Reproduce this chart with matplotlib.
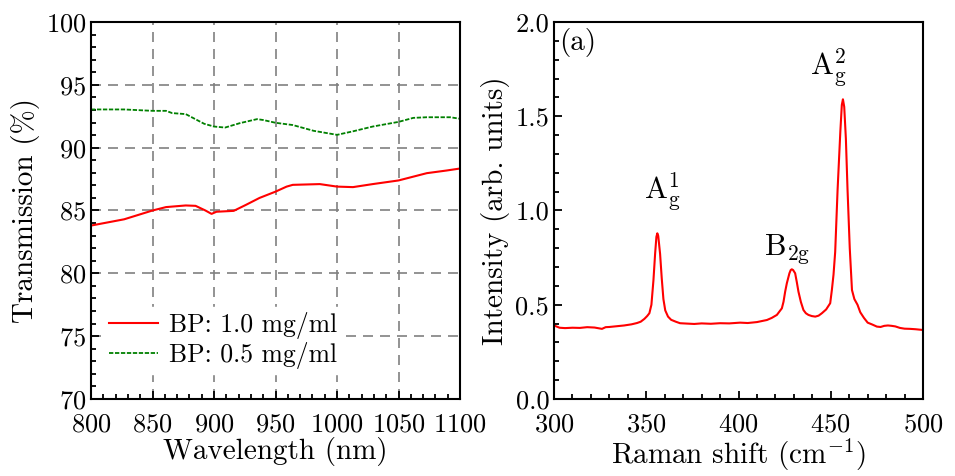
import numpy as np
import matplotlib
matplotlib.use("Agg")
import matplotlib.pyplot as plt
from matplotlib.ticker import MultipleLocator, FormatStrFormatter

plt.rcParams['font.family'] = 'cmr10'
plt.rcParams['mathtext.fontset'] = 'cm'
plt.rcParams['axes.formatter.use_mathtext'] = True
plt.rcParams['axes.unicode_minus'] = False

# Transmisja - dane
wavelength = [800, 827, 850, 861, 877, 885, 893, 898, 902, 916, 926, 937, 950,
              959, 964, 986, 1000, 1013, 1029, 1050, 1073, 1089, 1100]
trans_10 = [83.8, 84.3, 85.0, 85.27, 85.4, 85.37, 85.0, 84.73, 84.9, 84.97,
            85.45, 86.0, 86.5, 86.9, 87.04, 87.1, 86.9, 86.86, 87.1, 87.39,
            87.97, 88.18, 88.34]

wavelength_05 = [800, 827, 850, 861, 866, 877, 892, 900, 909, 921, 935, 940,
                 950, 964, 981, 1000, 1013, 1029, 1050, 1062, 1073, 1092, 1100]
trans_05 = [93.04, 93.04, 92.93, 92.93, 92.75, 92.67, 91.9, 91.68, 91.6, 91.95,
            92.27, 92.2, 91.98, 91.8, 91.34, 91.02, 91.3, 91.68, 92.05, 92.37,
            92.42, 92.42, 92.3]

# Widmo Ramana
raman_shift = [300, 303, 306, 310, 314, 318, 322, 326, 328, 330, 334, 338, 342,
               345, 347, 349, 350.5, 351.7, 352.8, 353.9, 354.8, 355.5, 356.0,
               356.5, 357.5, 358.4, 359.3, 360.3, 361.8, 363.5, 366, 368.3, 372,
               376, 380, 385, 390, 395, 400.9, 405, 410, 415.4, 418, 420.8,
               423.5, 424.4, 425.3, 426.2, 427.6, 428.3, 428.9, 429.6, 430.7,
               431.6, 432.5, 433.8, 435.2, 436.5, 437.9, 439.7, 441.6, 443.4,
               445.2, 447.5, 449.7, 450.6, 451.5, 452.4, 453.7, 455.2, 456.0,
               456.6, 457.3, 458.2, 459.1, 460.3, 461.5, 462.8, 464.5, 466,
               468, 470, 472.5, 475, 477, 479, 481, 483, 485, 487.5, 490, 493,
               496, 500]
intensity = [0.39, 0.378, 0.376, 0.378, 0.377, 0.381, 0.379, 0.372, 0.381,
             0.382, 0.386, 0.39, 0.396, 0.403, 0.41, 0.425, 0.44, 0.455, 0.5,
             0.63, 0.77, 0.86, 0.879, 0.865, 0.77, 0.64, 0.53, 0.47, 0.437,
             0.42, 0.41, 0.402, 0.4, 0.398, 0.401, 0.399, 0.402, 0.401, 0.405,
             0.403, 0.408, 0.419, 0.43, 0.446, 0.481, 0.516, 0.57, 0.614,
             0.667, 0.684, 0.688, 0.684, 0.667, 0.62, 0.569, 0.515, 0.472,
             0.455, 0.446, 0.44, 0.437, 0.442, 0.455, 0.475, 0.508, 0.578,
             0.66, 0.78, 1.109, 1.42, 1.56, 1.59, 1.55, 1.38, 1.109, 0.8,
             0.578, 0.53, 0.5, 0.46, 0.43, 0.405, 0.395, 0.384, 0.382, 0.388,
             0.39, 0.388, 0.385, 0.377, 0.373, 0.372, 0.37, 0.366]

peak_labels = [r'$\mathrm{A_g^1}$', r'$\mathrm{B_{2g}}$', r'$\mathrm{A_g^2}$']
peak_x = [358.5, 426.4, 448.6]
peak_y = [1.056, 0.759, 1.713]

fig = plt.figure(figsize=(9.55, 4.76), dpi=100)
ax1 = fig.add_axes([0.0953, 0.1618, 0.3864, 0.792])
ax2 = fig.add_axes([0.5801, 0.1618, 0.3864, 0.792])

for ax in (ax1, ax2):
    for s in ax.spines.values():
        s.set_linewidth(1.5)
    ax.tick_params(which='both', direction='in', top=False, right=False,
                   labelsize=19, width=1.3)
    ax.tick_params(which='major', length=6)
    ax.tick_params(which='minor', length=3.5)
    ax.tick_params(axis='x', which='major', pad=10)

# Lewy panel
ax1.plot(wavelength, trans_10, color='red', lw=1.5, label='BP: 1.0 mg/ml')
ax1.plot(wavelength_05, trans_05, color='green', lw=1.3, dashes=(2.4, 0.9),
         label='BP: 0.5 mg/ml')
ax1.set_xlim(800, 1100)
ax1.set_ylim(70, 100)
ax1.xaxis.set_major_locator(MultipleLocator(50))
ax1.xaxis.set_minor_locator(MultipleLocator(10))
ax1.yaxis.set_major_locator(MultipleLocator(5))
ax1.yaxis.set_minor_locator(MultipleLocator(1))
ax1.grid(True, which='major', color='#808080', lw=1.2, dashes=(6, 4.2))
ax1.set_axisbelow(True)
ax1.set_xlabel('Wavelength (nm)', fontsize=21, labelpad=0)
ax1.set_ylabel('Transmission (%)', fontsize=21, labelpad=4)
leg = ax1.legend(loc='lower left', bbox_to_anchor=(0.0, 0.033), fontsize=18.5,
                 handlelength=1.9, handletextpad=0.45, labelspacing=0.1,
                 borderpad=0.2, framealpha=1, fancybox=False)
leg.get_frame().set_edgecolor('white')

# Prawy panel
ax2.plot(raman_shift, intensity, color='red', lw=1.5)
ax2.set_xlim(300, 500)
ax2.set_ylim(0, 2)
ax2.xaxis.set_major_locator(MultipleLocator(50))
ax2.xaxis.set_minor_locator(MultipleLocator(10))
ax2.yaxis.set_major_locator(MultipleLocator(0.5))
ax2.yaxis.set_minor_locator(MultipleLocator(0.1))
ax2.yaxis.set_major_formatter(FormatStrFormatter('%.1f'))
ax2.set_xlabel(r'Raman shift (cm$^{-1}$)', fontsize=21, labelpad=0)
ax2.set_ylabel('Intensity (arb. units)', fontsize=21, labelpad=4)
ax2.text(0.015, 0.985, '(a)', transform=ax2.transAxes, fontsize=21,
         ha='left', va='top')
for lab, x, y in zip(peak_labels, peak_x, peak_y):
    ax2.text(x, y, lab, fontsize=22, ha='center', va='baseline')

fig.savefig('out.png', dpi=100)
